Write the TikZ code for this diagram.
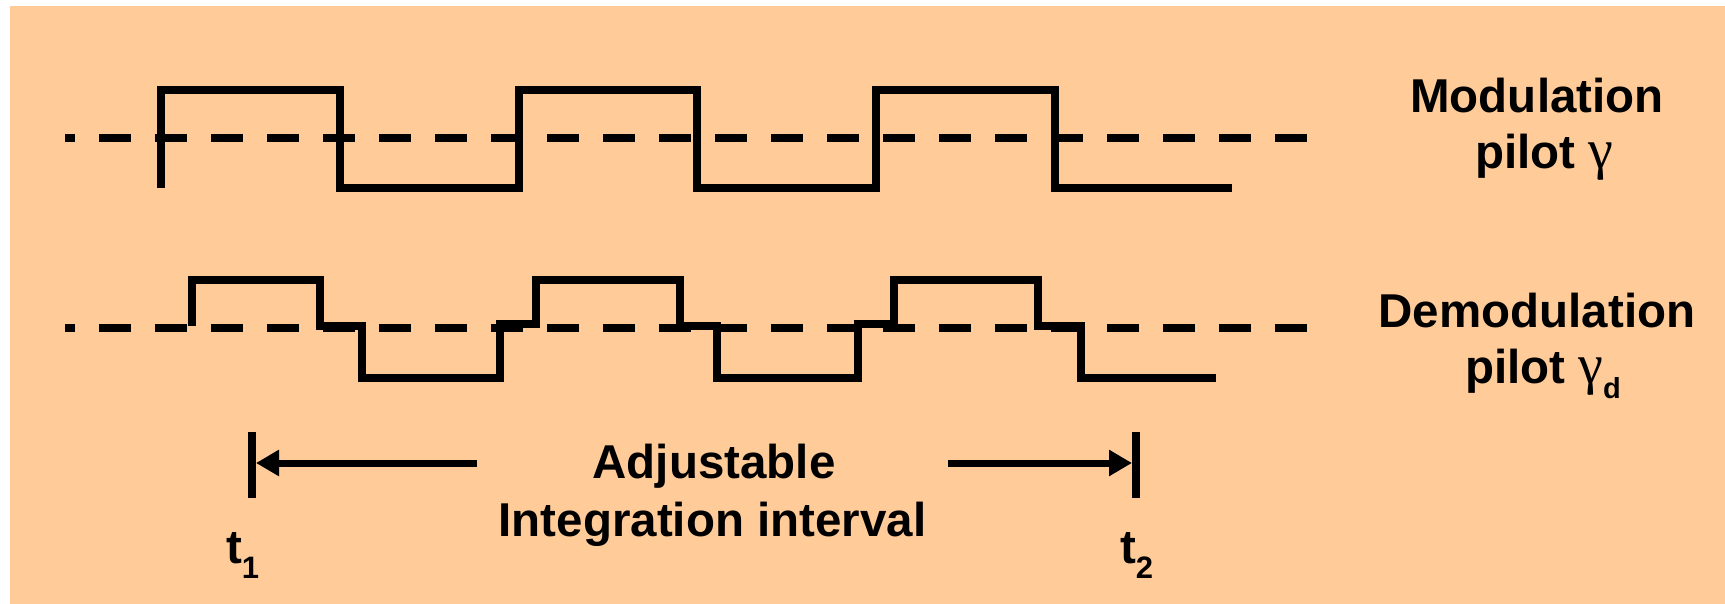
\documentclass[tikz,border=0pt]{standalone}
\usepackage{fontspec}
\setmainfont{Liberation Sans}
\newfontfamily\gkfont{Liberation Serif}
\usetikzlibrary{arrows.meta}
\definecolor{bgorange}{HTML}{FFCC99}
\newcommand{\gam}{{\gkfont\mdseries\fontsize{56}{56}\selectfont γ}}
\begin{document}
\begin{tikzpicture}[x=1pt,y=-1pt,
  wave/.style={line width=8pt, line join=miter},
  midline/.style={line width=7.5pt, dash pattern=on 32pt off 24pt, dash phase=22pt},
  lbl/.style={font=\fontsize{47.5}{56}\selectfont\bfseries, inner sep=0pt, outer sep=0pt},
  barnode/.style={fill=black, draw=none, minimum width=8pt, minimum height=66pt, inner sep=0pt, outer sep=0pt},
  arr/.style={line width=7pt, -{Triangle[length=23pt,width=25pt]}}]
\useasboundingbox (0,0) rectangle (1725,604);
\fill[white] (0,0) rectangle (1725,604);
\fill[bgorange] (10,6) rectangle (1725,604);
% dashed reference lines
\draw[midline] (65,138) -- (1307,138);
\draw[midline] (65,328) -- (1307,328);
% modulation pilot
\draw[wave] (161,188) -- (161,90) -- (340,90) -- (340,188) -- (519,188) -- (519,90)
  -- (697,90) -- (697,188) -- (876,188) -- (876,90) -- (1055,90) -- (1055,188) -- (1232,188);
% demodulation pilot
\draw[wave] (192,326) -- (192,280) -- (320,280) -- (320,326) -- (362,326) -- (362,378)
  -- (500,378) -- (500,324) -- (536,324) -- (536,280) -- (680,280) -- (680,326)
  -- (717,326) -- (717,378) -- (858,378) -- (858,324) -- (894,324) -- (894,280)
  -- (1038,280) -- (1038,326) -- (1081,326) -- (1081,378) -- (1216,378);
% right labels
\node[lbl, anchor=base] (mod) at (1537,113) {Modulation};
\node[lbl, anchor=base west] (modp) at (1475,169) {pilot \gam};
\node[lbl, anchor=base] (demod) at (1537,327) {Demodulation};
\node[lbl, anchor=base west] (demodp) at (1465,383) {pilot \gam\raisebox{-15pt}{\fontsize{29}{29}\selectfont d}};
% interval
\node[barnode] (t1bar) at (252,465) {};
\node[barnode] (t2bar) at (1136,465) {};
\coordinate (la) at (477,463);
\coordinate (ra) at (948,463);
\draw[arr] (la) -- (t1bar.east |- la);
\draw[arr] (ra) -- (t2bar.west |- ra);
\node[lbl, anchor=base] (adj) at (714,478) {Adjustable};
\node[lbl, anchor=base] (integ) at (712.5,536) {Integration interval};
\node[lbl, anchor=base west] (t1) at (226,563) {t\raisebox{-15pt}{\fontsize{31}{31}\selectfont 1}};
\node[lbl, anchor=base west] (t2) at (1120,563) {t\raisebox{-15pt}{\fontsize{31}{31}\selectfont 2}};
\end{tikzpicture}
\end{document}
